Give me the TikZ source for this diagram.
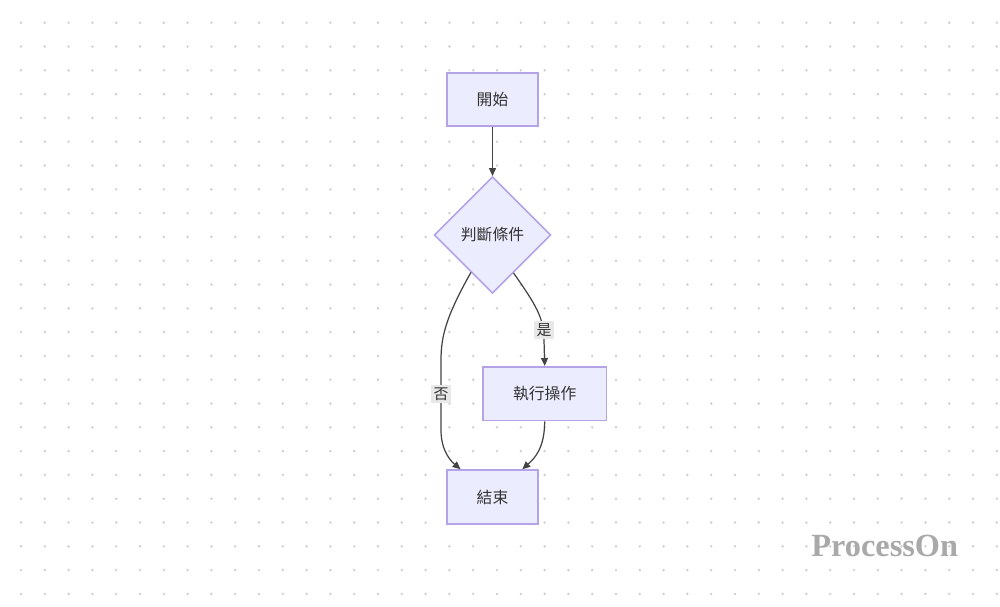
\documentclass[tikz,border=0pt]{standalone}
\usepackage{fontspec}
\setmainfont{Liberation Serif}
\newfontfamily\cjk{Noto Sans CJK TC}
\usetikzlibrary{shapes.geometric,arrows.meta}
\definecolor{boxfill}{HTML}{ECECFF}
\definecolor{boxline}{HTML}{B4A3E6}
\definecolor{linecol}{HTML}{444444}
\definecolor{textcol}{HTML}{333333}
\definecolor{dotcol}{HTML}{CFCFCF}
\definecolor{lblfill}{HTML}{E8E8E8}
\definecolor{wmark}{HTML}{A9A9A9}

\begin{document}
\begin{tikzpicture}[x=0.02cm,y=-0.02cm,
    box/.style={draw=boxline,fill=boxfill,line width=0.9pt,text=textcol,font=\cjk\fontsize{9}{11}\selectfont},
    decision/.style={box,diamond,inner sep=0pt,minimum width=2.33cm,minimum height=2.33cm},
    lbl/.style={fill=lblfill,text=textcol,inner sep=1.2pt,font=\cjk\fontsize{8.5}{10}\selectfont},
    flow/.style={draw=linecol,line width=0.7pt,-{Triangle[length=4.5pt,width=4pt]}}]
            \fill[white] (0,0) rectangle (1000,606);
            \useasboundingbox (0,0) rectangle (1000,606);
            \foreach \i in {0,...,41}{
                \foreach \j in {-1,...,24}{
                    \fill[dotcol] (21+23.8*\i,22.7+23.8*\j) circle[radius=0.027cm];
                }
            }
            \node[box,minimum width=1.82cm,minimum height=1.06cm] (start) at (492.5,99.7) {開始};
            \node[decision] (check) at (492.5,235) {判斷條件};
            \node[box,minimum width=2.48cm,minimum height=1.08cm] (act) at (544.7,393.7) {執行操作};
            \node[box,minimum width=1.82cm,minimum height=1.08cm] (end) at (492.5,497) {結束};
            \draw[flow] (start) -- (check);
            \draw[flow] (check.-61) .. controls (536,305) and (544,318) .. (544,340) -- (act.north);
            \draw[flow] (check.-120) .. controls (447,315) and (441,335) .. (441,360) -- (441,430) .. controls (441,452) and (452,462) .. (end.139);
            \draw[flow] (act.south) .. controls (544.5,448) and (535,458) .. (end.43);
            \node[lbl] (yes) at (544,330) {是};
            \node[lbl] (no) at (441,394) {否};
            \node[anchor=base west,inner sep=0pt,text=wmark,font=\bfseries\fontsize{18.4}{20}\selectfont] (mark) at (811,556.7) {ProcessOn};
        \end{tikzpicture}
\end{document}
